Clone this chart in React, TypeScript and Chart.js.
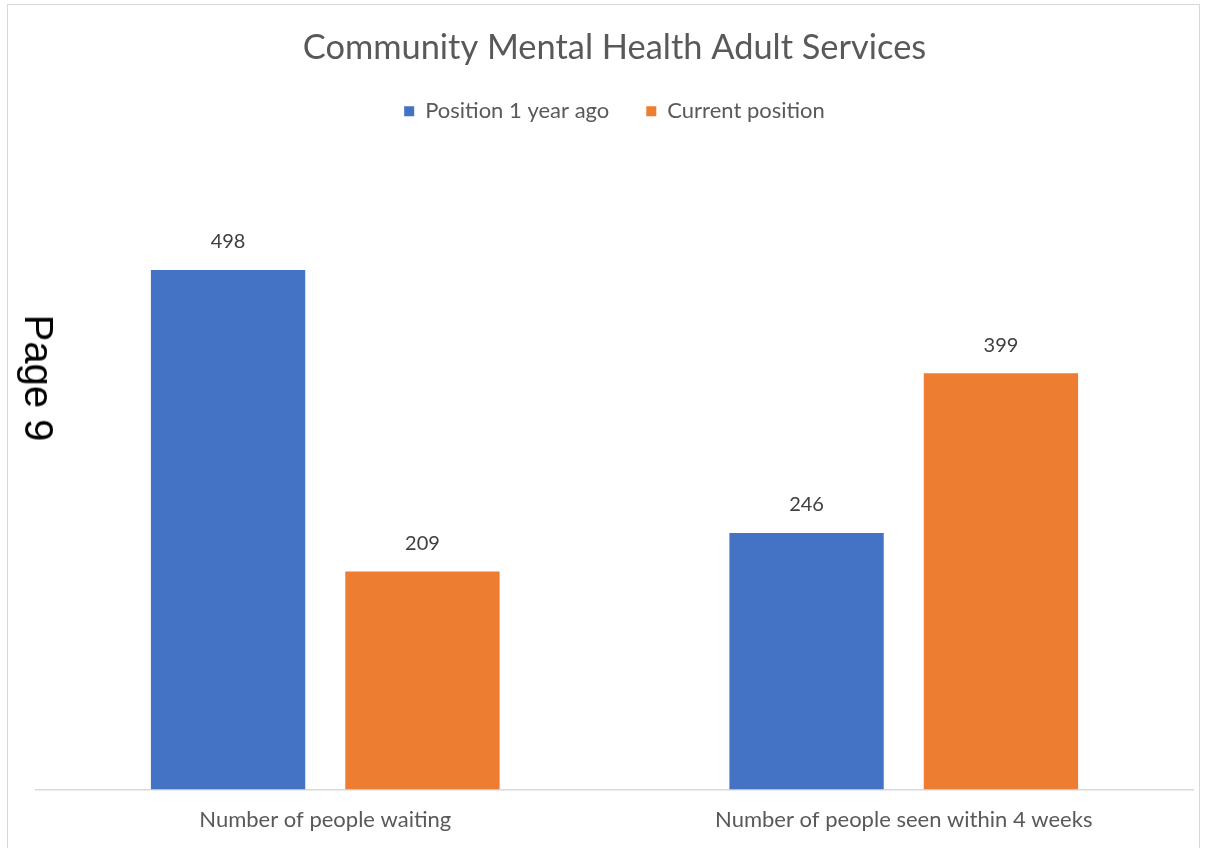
import React, { useEffect, useRef } from "react";
import { Chart, registerables } from "chart.js";

Chart.register(...registerables);

const categories = ["Number of people waiting", "Number of people seen within 4 weeks"];
const seriesNames = ["Position 1 year ago", "Current position"];
const yearAgo = [498, 246];
const current = [209, 399];
const colors = ["#4472C4", "#ED7D31"];
const titleText = "Community Mental Health Adult Services";
const FONT = "Lato, 'Open Sans', sans-serif";

const valueLabels = {
  id: "valueLabels",
  afterDatasetsDraw(chart: any) {
    const ctx = chart.ctx;
    ctx.save();
    ctx.font = `20px ${FONT}`;
    ctx.fillStyle = "#404040";
    ctx.textAlign = "center";
    ctx.textBaseline = "middle";
    chart.data.datasets.forEach((ds: any, i: number) => {
      const meta = chart.getDatasetMeta(i);
      meta.data.forEach((bar: any, j: number) => {
        ctx.fillText(String(ds.data[j]), bar.x, bar.y - 28);
      });
    });
    ctx.restore();
  },
};

export default function App() {
  const ref = useRef<HTMLCanvasElement>(null);
  useEffect(() => {
    document.body.style.margin = "0";
    const chart = new Chart(ref.current!, {
      type: "bar",
      data: {
        labels: categories,
        datasets: [
          { label: seriesNames[0], data: yearAgo, backgroundColor: colors[0] },
          { label: seriesNames[1], data: current, backgroundColor: colors[1] },
        ],
      },
      options: {
        responsive: false,
        animation: false,
        devicePixelRatio: 1,
        layout: { padding: { left: 36, right: 12, top: 10, bottom: -2 } },
        datasets: { bar: { categoryPercentage: 0.672, barPercentage: 0.794 } },
        plugins: {
          title: {
            display: true,
            text: titleText,
            color: "#595959",
            font: { family: FONT, size: 34.4, weight: "normal" },
            padding: { top: 17, bottom: -5 },
          },
          legend: {
            display: true,
            labels: {
              boxWidth: 10,
              boxHeight: 10,
              color: "#595959",
              font: { family: FONT, size: 22 },
              padding: 37,
            },
          },
          tooltip: { enabled: false },
        },
        scales: {
          x: {
            grid: { display: false, drawTicks: false },
            border: { display: true, color: "#D9D9D9", width: 1.5 },
            ticks: { color: "#595959", font: { family: FONT, size: 22 }, padding: 17 },
          },
          y: { display: false, min: 0, max: 630 },
        },
      },
      plugins: [valueLabels],
    });
    return () => chart.destroy();
  }, []);
  return (
    <div style={{ position: "relative", width: 1205, height: 848, overflow: "hidden", background: "#fff" }}>
      <div
        style={{
          position: "absolute",
          left: 7,
          top: 4,
          width: 1193,
          height: 900,
          border: "1.5px solid #D9D9D9",
          boxSizing: "border-box",
        }}
      />
      <canvas ref={ref} width={1205} height={848} style={{ position: "absolute", left: 0, top: 0 }} />
      <div
        style={{
          position: "absolute",
          left: 39,
          top: 378,
          transform: "translate(-50%, -50%) rotate(90deg)",
          fontFamily: "'Liberation Sans', Arial, sans-serif",
          fontSize: 40,
          color: "#000",
          whiteSpace: "nowrap",
          lineHeight: 1,
        }}
      >
        Page 9
      </div>
    </div>
  );
}
